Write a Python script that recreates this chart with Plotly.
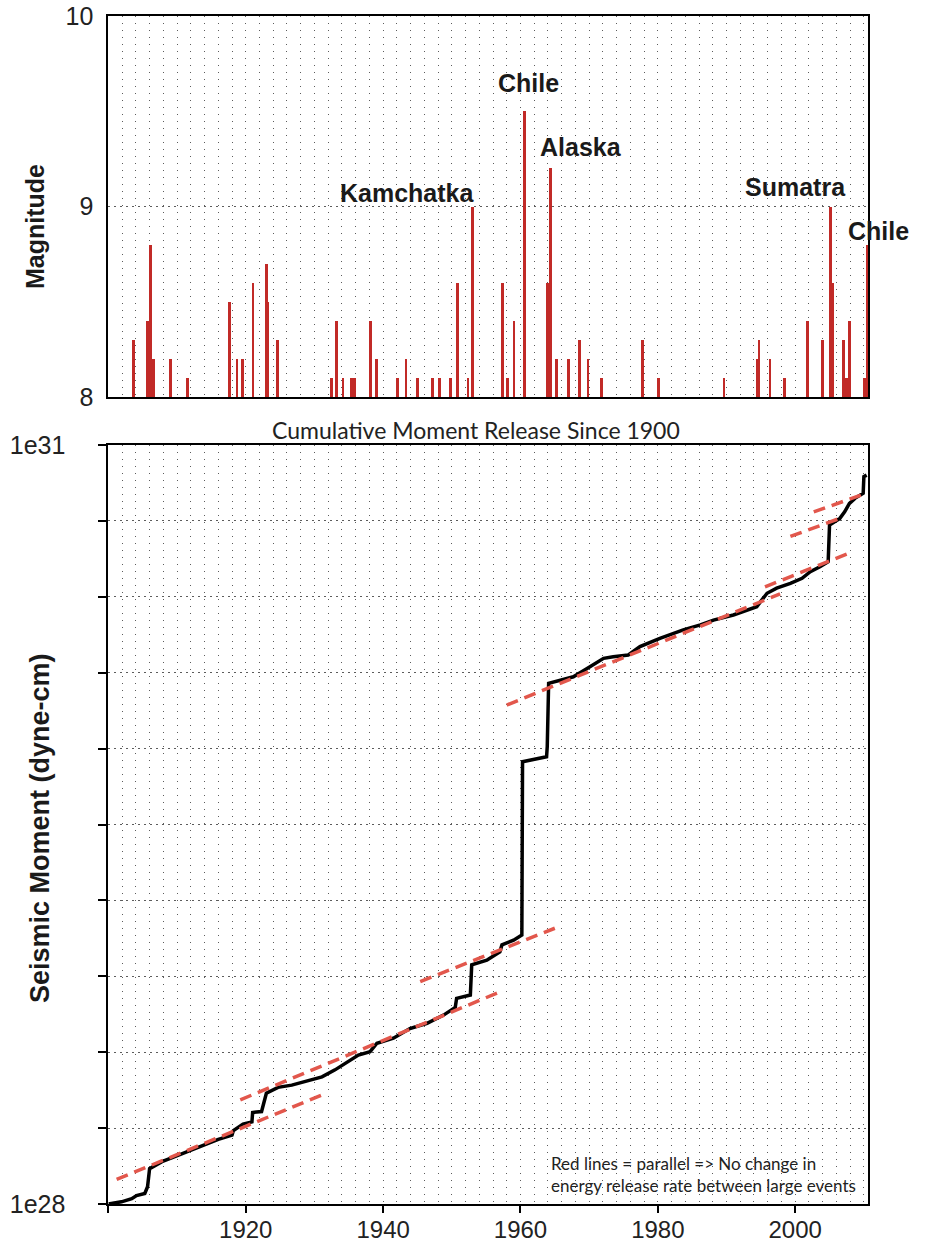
import plotly.graph_objects as go

W, H = 931, 1244

# ---------------- data ----------------
eq_years = [1903.7, 1905.7, 1906.2, 1906.6, 1909.1, 1911.6, 1917.7, 1918.8, 1919.6, 1921.1,
            1923.1, 1923.3, 1924.7, 1932.5, 1933.3, 1934.2, 1935.5, 1935.9, 1938.2, 1939.1,
            1942.1, 1943.4, 1945.1, 1947.2, 1948.3, 1949.9, 1950.9, 1952.4, 1953.1, 1957.4,
            1958.2, 1959.1, 1960.6, 1964.0, 1964.4, 1965.3, 1967.0, 1968.6, 1969.9, 1971.8,
            1977.8, 1980.2, 1989.7, 1994.6, 1994.8, 1996.4, 1998.5, 2001.8, 2004.0, 2005.2,
            2005.5, 2007.1, 2007.5, 2008.0, 2010.1, 2010.5]
eq_mags = [8.3, 8.4, 8.8, 8.2, 8.2, 8.1, 8.5, 8.2, 8.2, 8.6,
           8.7, 8.5, 8.3, 8.1, 8.4, 8.1, 8.1, 8.1, 8.4, 8.2,
           8.1, 8.2, 8.1, 8.1, 8.1, 8.1, 8.6, 8.1, 9.0, 8.6,
           8.1, 8.4, 9.5, 8.6, 9.2, 8.2, 8.2, 8.3, 8.2, 8.1,
           8.3, 8.1, 8.1, 8.2, 8.3, 8.2, 8.1, 8.4, 8.3, 9.0,
           8.6, 8.3, 8.1, 8.4, 8.1, 8.8]

label_names = ["Kamchatka", "Chile", "Alaska", "Sumatra", "Chile"]
label_years = [1943.5, 1961.1, 1968.8, 2000.0, 2007.4]
label_mags = [9.07, 9.65, 9.31, 9.10, 8.87]
label_anchor = ["center", "center", "center", "center", "left"]

cm_years = [1900.0, 1901.9, 1903.4, 1904.1, 1905.3, 1905.7, 1906.0, 1907.8, 1909.2, 1911.6,
            1914.1, 1916.0, 1918.0, 1918.2, 1919.6, 1920.9, 1921.0, 1922.3, 1923.0, 1924.7,
            1926.7, 1928.6, 1931.1, 1933.0, 1934.5, 1936.4, 1938.1, 1939.1, 1941.5, 1943.9,
            1946.4, 1948.8, 1950.5, 1950.7, 1952.7, 1952.9, 1955.1, 1957.0, 1957.3, 1959.0,
            1960.2, 1960.3, 1963.8, 1963.9, 1964.1, 1965.8, 1967.7, 1969.7, 1972.1, 1973.5,
            1975.7, 1977.4, 1980.3, 1983.7, 1986.2, 1988.1, 1991.0, 1994.4, 1995.9, 1997.3,
            1999.3, 2001.0, 2002.2, 2003.6, 2004.8, 2005.0, 2006.5, 2007.2, 2007.9, 2008.7,
            2009.9, 2010.0, 2010.4]
cm_moment = [1.00e28, 1.02e28, 1.05e28, 1.08e28, 1.10e28, 1.17e28, 1.38e28, 1.47e28, 1.52e28, 1.61e28,
             1.71e28, 1.80e28, 1.87e28, 1.95e28, 2.07e28, 2.11e28, 2.30e28, 2.32e28, 2.74e28, 2.89e28,
             2.95e28, 3.04e28, 3.18e28, 3.39e28, 3.60e28, 3.88e28, 4.00e28, 4.32e28, 4.52e28, 4.94e28,
             5.18e28, 5.58e28, 5.98e28, 6.50e28, 6.70e28, 8.81e28, 9.20e28, 9.93e28, 1.057e29, 1.104e29,
             1.156e29, 5.60e29, 5.86e29, 6.43e29, 1.143e30, 1.178e30, 1.213e30, 1.309e30, 1.435e30, 1.455e30,
             1.479e30, 1.596e30, 1.722e30, 1.858e30, 1.945e30, 2.032e30, 2.128e30, 2.296e30, 2.594e30, 2.716e30,
             2.838e30, 2.972e30, 3.155e30, 3.304e30, 3.459e30, 4.831e30, 5.129e30, 5.445e30, 5.875e30, 6.152e30,
             6.442e30, 7.499e30, 7.603e30]

# parallel reference lines (start year, end year, start moment, end moment)
ref_x0 = [1901.2, 1919.2, 1945.4, 1958.0, 1995.6, 1999.3, 2002.7]
ref_x1 = [1931.1, 1957.0, 1965.0, 1997.8, 2008.3, 2006.5, 2010.3]
ref_y0 = [1.25e28, 2.58e28, 7.57e28, 9.38e29, 2.75e30, 4.35e30, 5.44e30]
ref_y1 = [2.70e28, 6.89e28, 1.23e29, 2.58e30, 3.78e30, 5.13e30, 6.44e30]

mag_ticks = [8, 9, 10]
moment_ticks = [10 ** (28 + 0.3 * k) for k in range(11)]
moment_ticktext = ["1e28"] + [""] * 9 + ["1e31"]
year_ticks = [1900, 1920, 1940, 1960, 1980, 2000]
year_ticktext = ["", "1920", "1940", "1960", "1980", "2000"]

# ---------------- layout geometry ----------------
def px_x(p):
    return p / W

def px_y(p):
    return 1 - p / H

x_dom = [px_x(108.4), px_x(868)]
top_dom = [px_y(397), px_y(16)]
bot_dom = [px_y(1204), px_y(445)]
xrange_ = [1900, 2010.6]

grid_col = "#5c5c5c"
vdash = "1px,6px"
hdash = "2px,4px"
bold_font = "Liberation Sans, Arial, Helvetica, sans-serif"
light_font = "Lato, Open Sans, sans-serif"

fig = go.Figure()

fig.add_trace(go.Bar(x=eq_years, y=[m - 8 for m in eq_mags], base=8, width=0.4,
                     marker=dict(color="#c12a27", line=dict(width=0)),
                     xaxis="x", yaxis="y", showlegend=False))

fig.add_trace(go.Scatter(x=cm_years, y=cm_moment, mode="lines",
                         line=dict(color="black", width=3.5),
                         xaxis="x2", yaxis="y2", showlegend=False))

for a, b, c, d in zip(ref_x0, ref_x1, ref_y0, ref_y1):
    fig.add_trace(go.Scatter(x=[a, b], y=[c, d], mode="lines",
                             line=dict(color="#e2574c", width=3.5, dash="12px,7px"),
                             xaxis="x2", yaxis="y2", showlegend=False))

axis_common = dict(showline=True, linecolor="black", linewidth=2, mirror=True, zeroline=False,
                   automargin=False)

fig.update_layout(
    width=W, height=H, margin=dict(l=0, r=0, t=0, b=0, pad=0, autoexpand=False),
    paper_bgcolor="white", plot_bgcolor="white",
    bargap=0,
    xaxis=dict(domain=x_dom, range=xrange_, anchor="y", showticklabels=False, ticks="",
               tickmode="linear", tick0=1900, dtick=2,
               showgrid=True, gridcolor=grid_col, griddash=vdash, gridwidth=1, **axis_common),
    yaxis=dict(domain=top_dom, range=[8, 10], anchor="x", tickmode="array", tickvals=mag_ticks,
               ticks="", ticklabelstandoff=8,
               tickfont=dict(family=bold_font, size=25, color="#222"),
               showgrid=True, gridcolor=grid_col, griddash=hdash, gridwidth=1, **axis_common),
    xaxis2=dict(domain=x_dom, range=xrange_, anchor="y2", tickmode="array", tickvals=year_ticks,
                ticktext=year_ticktext, ticks="outside", ticklen=7, tickwidth=2, tickcolor="black",
                ticklabelstandoff=-4,
                tickfont=dict(family=bold_font, size=24, color="#222"),
                showgrid=True, gridcolor=grid_col, griddash=vdash, gridwidth=1,
                minor=dict(tickmode="linear", tick0=1900, dtick=2, showgrid=True,
                           gridcolor=grid_col, griddash=vdash, gridwidth=1, ticks=""),
                **axis_common),
    yaxis2=dict(domain=bot_dom, type="log", range=[28, 31], anchor="x2", tickmode="array",
                tickvals=moment_ticks, ticktext=moment_ticktext, ticks="outside", ticklen=8,
                tickwidth=2, tickcolor="black", ticklabelstandoff=28,
                tickfont=dict(family=bold_font, size=25, color="#222"),
                showgrid=True, gridcolor=grid_col, griddash=hdash, gridwidth=1, **axis_common),
)

annotations = []
for name, yx, ym, anc in zip(label_names, label_years, label_mags, label_anchor):
    annotations.append(dict(x=yx, y=ym, xref="x", yref="y", text="<b>%s</b>" % name,
                            showarrow=False, xanchor=anc, yanchor="middle",
                            font=dict(family=bold_font, size=25, color="#1a1a1a")))

annotations.append(dict(x=px_x(35), y=px_y(227), xref="paper", yref="paper",
                        xanchor="center", yanchor="middle",
                        text="<b>Magnitude</b>", textangle=-90, showarrow=False,
                        font=dict(family=bold_font, size=25, color="#1a1a1a")))
annotations.append(dict(x=px_x(40), y=px_y(828), xref="paper", yref="paper",
                        xanchor="center", yanchor="middle",
                        text="<b>Seismic Moment (dyne-cm)</b>", textangle=-90, showarrow=False,
                        font=dict(family=bold_font, size=27, color="#1a1a1a")))
annotations.append(dict(x=px_x(476), y=px_y(430), xref="paper", yref="paper",
                        xanchor="center", yanchor="middle",
                        text="Cumulative Moment Release Since 1900", showarrow=False,
                        font=dict(family=light_font, size=23, color="#222")))
annotations.append(dict(x=px_x(549), y=px_y(1151), xref="paper", yref="paper",
                        xanchor="left", yanchor="top", align="left",
                        text="Red lines = parallel => No change in<br>energy release rate between large events",
                        showarrow=False,
                        font=dict(family=light_font, size=17, color="#222")))
fig.update_layout(annotations=annotations)

fig.write_html("out.html")
